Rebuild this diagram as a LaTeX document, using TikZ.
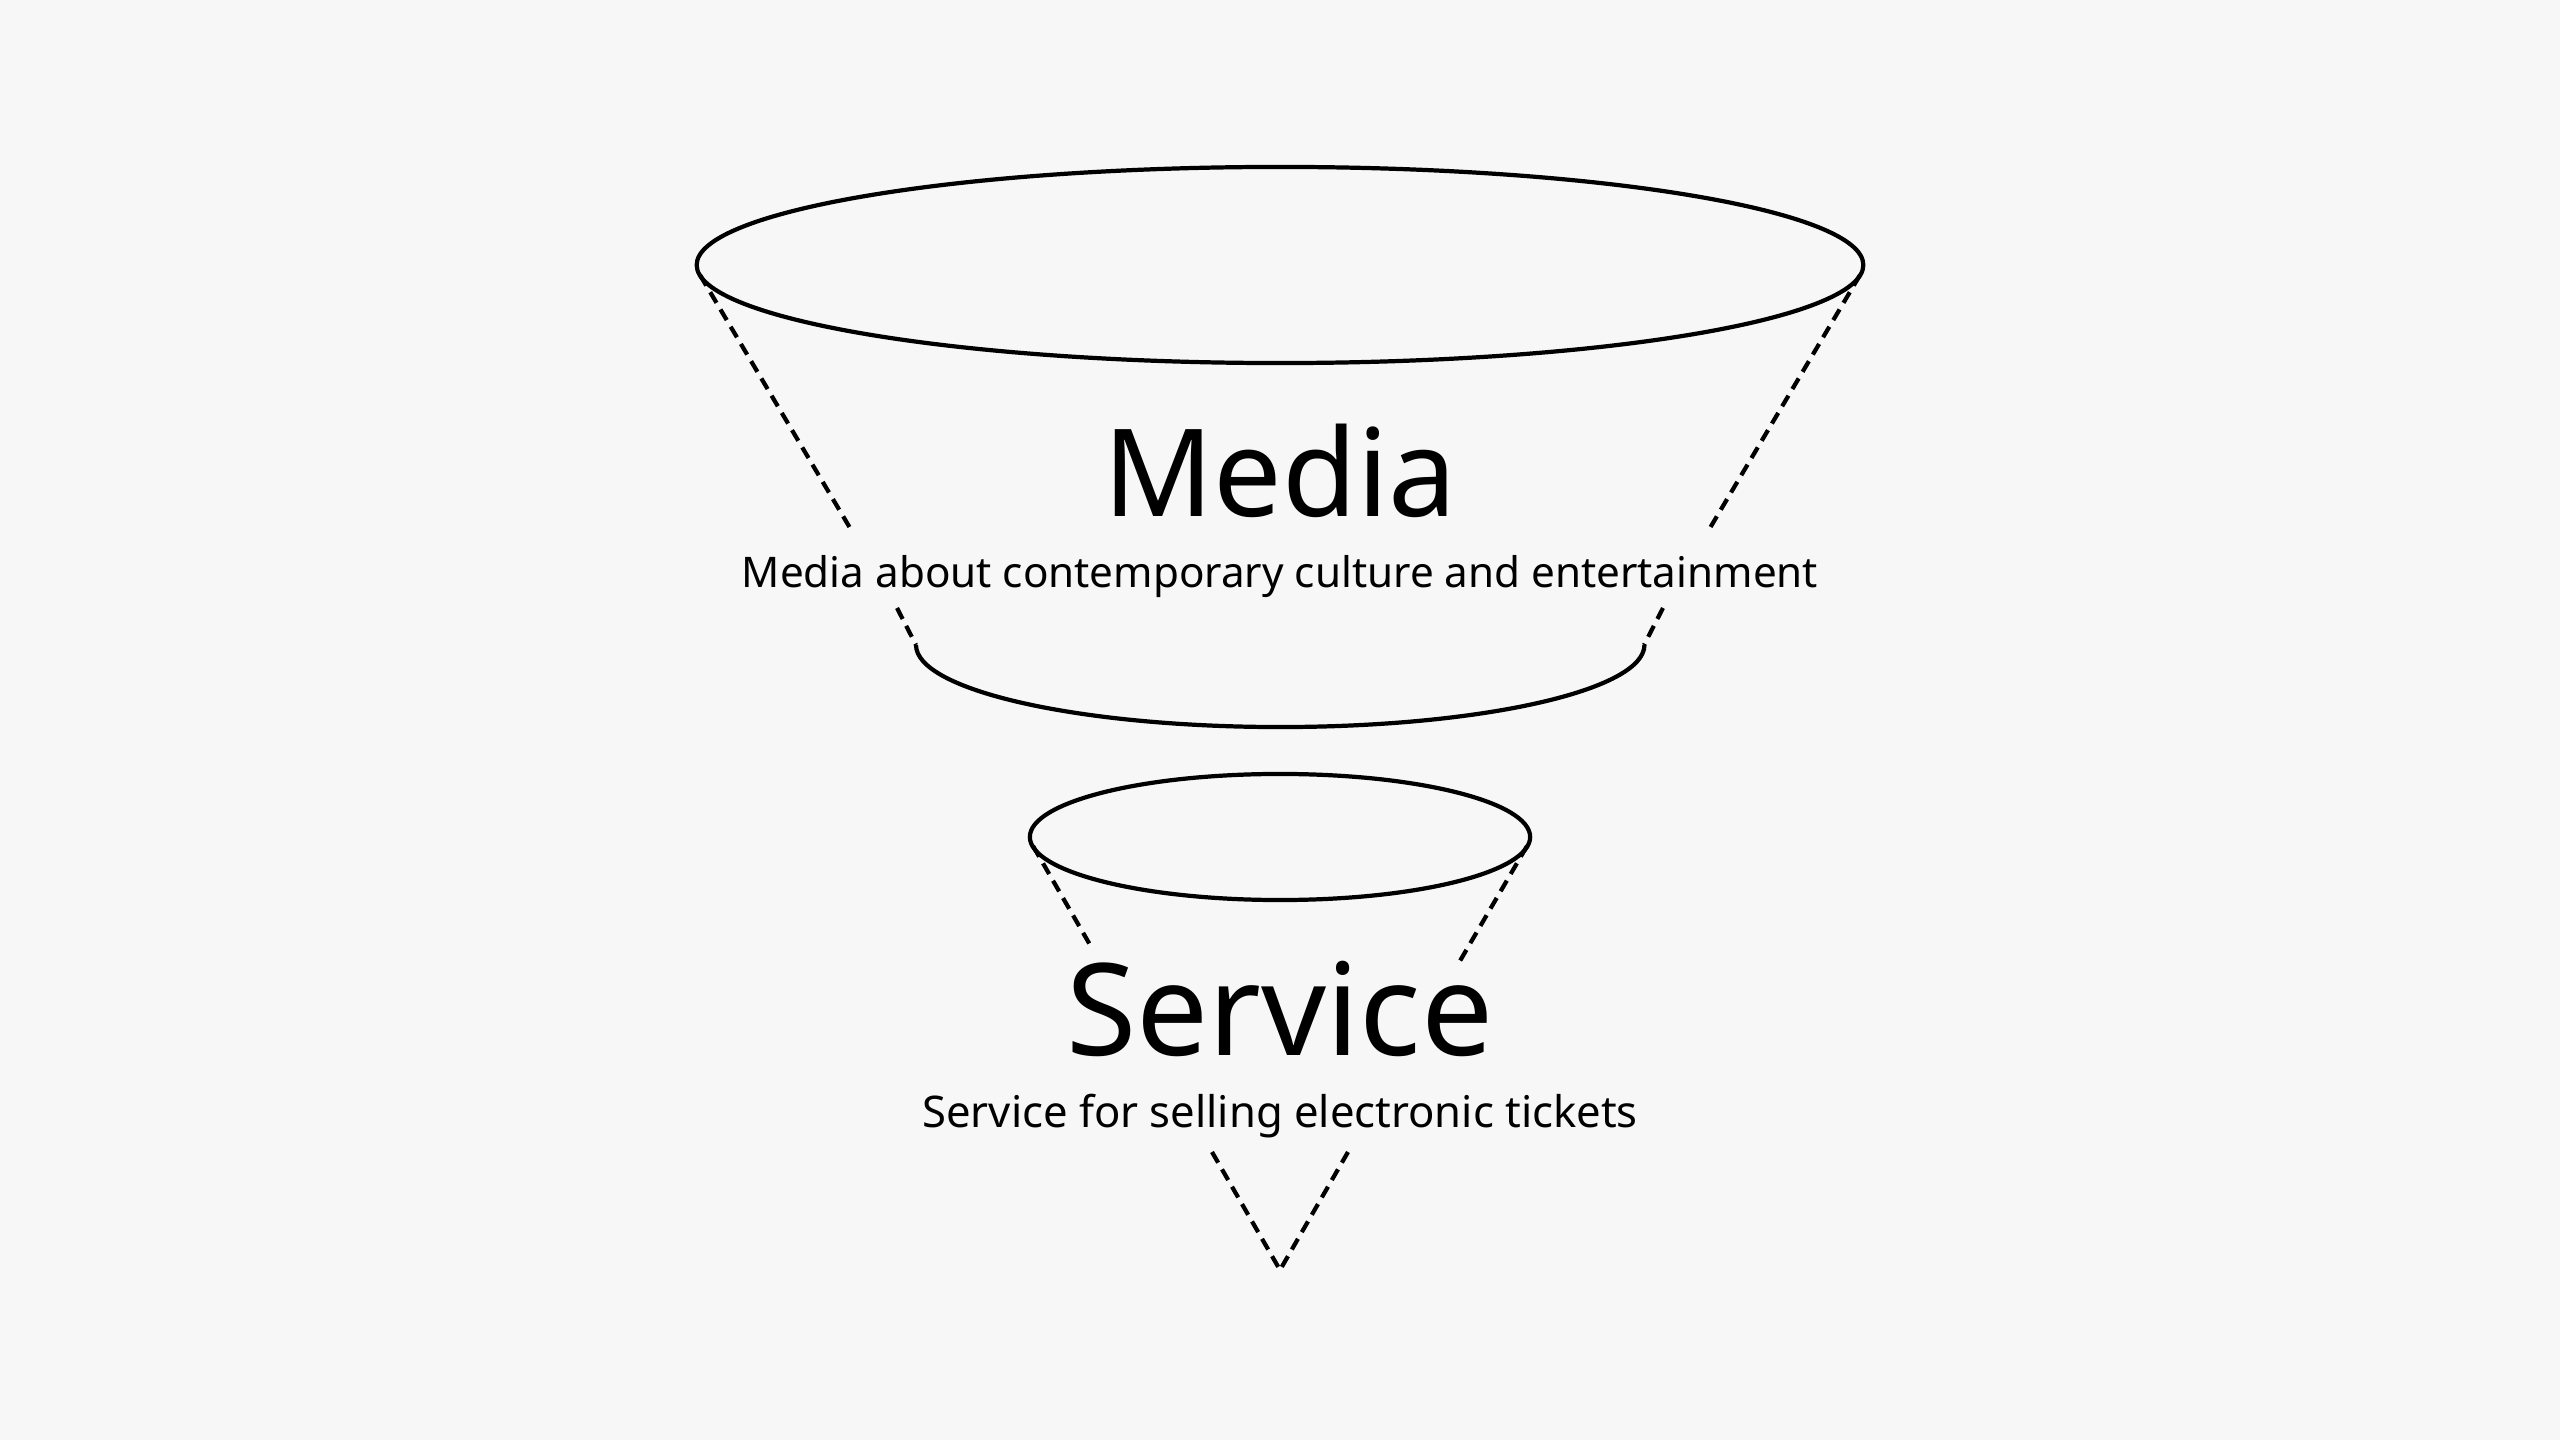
\documentclass[tikz,border=0pt]{standalone}
\usepackage{fontspec}
\setmainfont{Noto Sans}
\definecolor{bg}{HTML}{F7F7F7}
\definecolor{ink}{HTML}{000000}
\begin{document}
\begin{tikzpicture}[x=0.01cm,y=-0.01cm,
  solidline/.style={draw=ink,line width=1.2pt},
  dashline/.style={draw=ink,line width=1.2pt,dash pattern=on 3.5pt off 2.2pt},
  titletext/.style={inner sep=0pt,anchor=base,text=ink},
  subtext/.style={inner sep=0pt,anchor=base,text=ink}]
\fill[bg] (0,0) rectangle (2560,1440);
\useasboundingbox (0,0) rectangle (2560,1440);
% points of the cone (apex shared by both parts)
\coordinate (apex) at (1280,1270);
\coordinate (mTL) at (700,275);
\coordinate (mTR) at (1860,275);
\coordinate (mG1L) at (853,533);
\coordinate (mG1R) at (1707,533);
\coordinate (mG2L) at (897,608);
\coordinate (mG2R) at (1663,608);
\coordinate (mBL) at (916,645);
\coordinate (mBR) at (1644,645);
\coordinate (sTL) at (1033,846);
\coordinate (sTR) at (1527,846);
\coordinate (sG1L) at (1093,950);
\coordinate (sG1R) at (1457,966);
\coordinate (sG2L) at (1212,1152);
\coordinate (sG2R) at (1348,1152);
% media part
\draw[solidline] (1280,265) ellipse [x radius=5.83cm, y radius=0.98cm];
\draw[dashline] (mTL) -- (mG1L);
\draw[dashline] (mG2L) -- (mBL);
\draw[dashline] (mTR) -- (mG1R);
\draw[dashline] (mG2R) -- (mBR);
\draw[solidline] (mBL) arc[start angle=180, end angle=360, x radius=3.64cm, y radius=0.82cm];
% service part
\draw[solidline] (1280,837) ellipse [x radius=2.50cm, y radius=0.63cm];
\draw[dashline] (sTL) -- (sG1L);
\draw[dashline] (sTR) -- (sG1R);
\draw[dashline] (sG2L) -- (apex);
\draw[dashline] (sG2R) -- (apex);
% texts
\node[titletext,font=\fontsize{34.6pt}{40pt}\selectfont] (media) at (1280,517) {Media};
\node[subtext,font=\fontsize{12.0pt}{15pt}\selectfont] (mediasub) at (1280,588) {Media about contemporary culture and entertainment};
\node[titletext,font=\fontsize{36.4pt}{42pt}\selectfont] (service) at (1280,1055) {Service};
\node[subtext,font=\fontsize{12.4pt}{15pt}\selectfont] (servicesub) at (1280,1127) {Service for selling electronic tickets};
\end{tikzpicture}
\end{document}
